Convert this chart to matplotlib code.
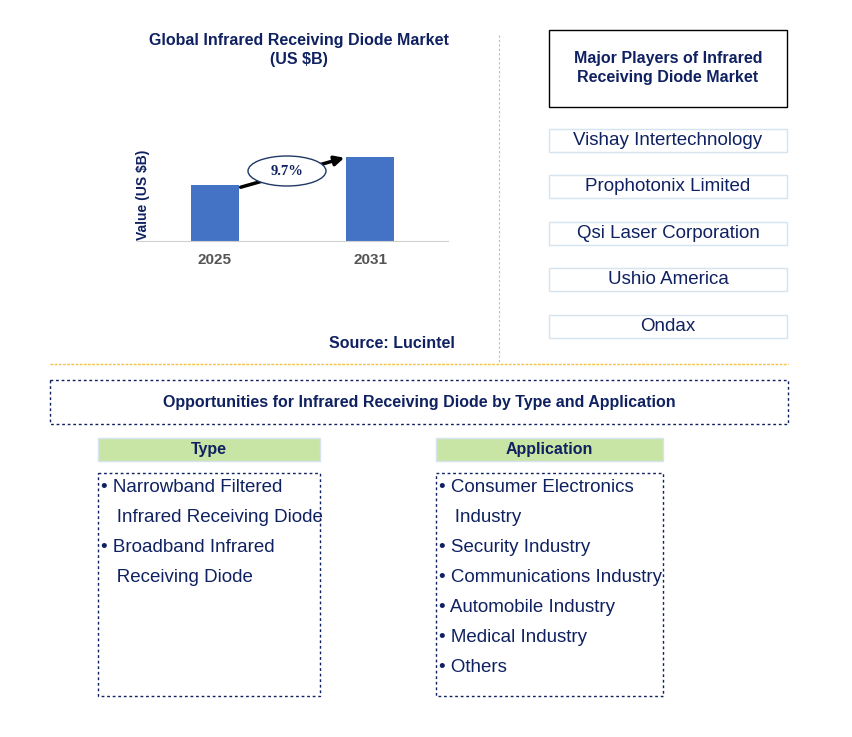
import matplotlib
matplotlib.use("Agg")
import matplotlib.pyplot as plt
from matplotlib.patches import Rectangle, Ellipse

plt.rcParams["font.family"] = "Liberation Sans"

years = ["2025", "2031"]
values = [1.0, 1.5]
cagr = "9.7%"
players = ["Vishay Intertechnology", "Prophotonix Limited", "Qsi Laser Corporation",
           "Ushio America", "Ondax"]
types = ["Narrowband Filtered", " Infrared Receiving Diode", "Broadband Infrared",
         " Receiving Diode"]
type_bullets = [True, False, True, False]
apps = ["Consumer Electronics", " Industry", "Security Industry", "Communications Industry",
        "Automobile Industry", "Medical Industry", "Others"]
app_bullets = [True, False, True, True, True, True, True]

NAVY = "#0f2160"
W, H = 852, 737
fig = plt.figure(figsize=(W / 100, H / 100), dpi=100)

# overlay in pixel coordinates
ov = fig.add_axes([0, 0, 1, 1])
ov.set_xlim(0, W)
ov.set_ylim(H, 0)
ov.axis("off")

# bar chart
ax = fig.add_axes([137 / W, 1 - 241 / H, (448 - 137) / W, 101 / H])
ax.bar(range(len(years)), values, width=0.31, color="#4472c4")
ax.set_xlim(-0.5, 1.5)
ax.set_ylim(0, 1.8)
ax.set_xticks(range(len(years)))
ax.set_xticklabels(years, fontsize=11, fontweight="bold", color="#555555")
ax.set_yticks([])
ax.tick_params(axis="x", length=0, pad=9)
for s in ["top", "right", "left"]:
    ax.spines[s].set_visible(False)
ax.spines["bottom"].set_color("#d0d0d0")
ax.patch.set_alpha(0)
ov.text(143, 195, "Value (US $B)", rotation=90, ha="center", va="center", fontsize=10,
        fontweight="bold", color=NAVY)

ov.annotate("", xy=(347, 157), xytext=(238, 188),
            arrowprops=dict(arrowstyle="-|>", color="black", lw=2.5, mutation_scale=14),
            zorder=2)
ov.add_patch(Ellipse((287, 171), 78, 30, facecolor="white", edgecolor="#1f3864", lw=1,
                     zorder=3))
ov.text(287, 171, cagr, ha="center", va="center", fontsize=10.5, fontweight="bold",
        family="Liberation Serif", color=NAVY, zorder=4)

ov.text(299, 50, "Global Infrared Receiving Diode Market\n(US $B)", ha="center", va="center",
        fontsize=11.5, fontweight="bold", color=NAVY, linespacing=1.4)
ov.text(392, 343, "Source: Lucintel", ha="center", va="center", fontsize=11.5,
        fontweight="bold", color=NAVY)

# separators
ov.plot([499, 499], [35, 362], color="#bbbbbb", lw=0.8, ls=(0, (2, 2)))
ov.plot([50, 788], [364, 364], color="#f5c242", lw=1, ls=(0, (2, 1)))

# players
ov.add_patch(Rectangle((549, 30), 238, 77, fill=False, edgecolor="black", lw=1))
ov.text(668, 68, "Major Players of Infrared\nReceiving Diode Market", ha="center",
        va="center", fontsize=11.5, fontweight="bold", color=NAVY, linespacing=1.4)
for i, p in enumerate(players):
    yc = 140 + i * 46.5
    ov.add_patch(Rectangle((549, yc - 11.5), 238, 23, fill=False, edgecolor="#d6e4f0", lw=1))
    ov.text(668, yc, p, ha="center", va="center", fontsize=13.5, color=NAVY)

# opportunities
ov.add_patch(Rectangle((50, 380), 738, 44, fill=False, edgecolor=NAVY, lw=1, ls=(0, (2, 2))))
ov.text(419, 402, "Opportunities for Infrared Receiving Diode by Type and Application",
        ha="center", va="center", fontsize=11.5, fontweight="bold", color=NAVY)

for x0, w, title, items, bul in [(98, 222, "Type", types, type_bullets),
                                 (436, 227, "Application", apps, app_bullets)]:
    ov.add_patch(Rectangle((x0, 438), w, 23, facecolor="#c9e5a5", edgecolor="#d6e4f0", lw=1))
    ov.text(x0 + w / 2, 449.5, title, ha="center", va="center", fontsize=11.5,
            fontweight="bold", color=NAVY)
    ov.add_patch(Rectangle((x0, 473), w, 223, fill=False, edgecolor=NAVY, lw=1,
                           ls=(0, (2, 2))))
    for j, (t, b) in enumerate(zip(items, bul)):
        label = ("• " + t) if b else "  " + t
        ov.text(x0 + 3, 487 + j * 30, label, ha="left", va="center", fontsize=13.5,
                color=NAVY)

fig.savefig("out.png", dpi=100)
